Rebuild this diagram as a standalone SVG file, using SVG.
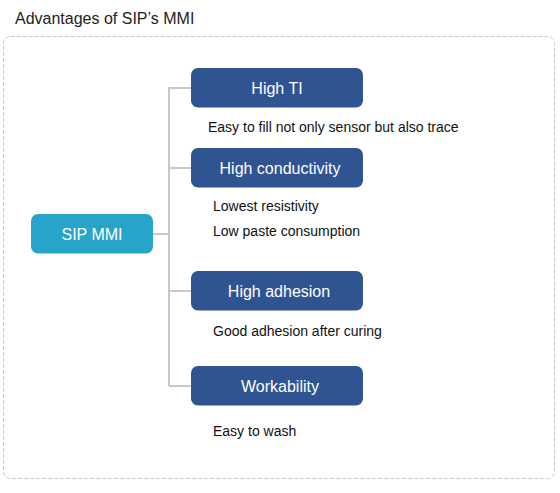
<svg xmlns="http://www.w3.org/2000/svg" width="560" height="493" viewBox="0 0 560 493">
<style>
.t{font-family:"Liberation Sans",Arial,sans-serif;}
.nb{fill:#2f5491;}
.nt{fill:#ffffff;font-size:16px;text-anchor:middle;}
.d{fill:#111111;font-size:14px;}
.c{stroke:#c8c8c8;stroke-width:2;fill:none;}
</style>
<rect width="560" height="493" fill="#ffffff"/>
<text class="t" x="15" y="24" font-size="16" fill="#222222">Advantages of SIP’s MMI</text>
<rect x="3.5" y="36.5" width="551" height="442" rx="7" fill="none" stroke="#c8c8c8" stroke-dasharray="4,2"/>
<g id="connectors">
<path class="c" d="M152 234H169M169 87V386M169 88H191M169 168H191M169 291H191M169 386H191"/>
</g>
<g id="sip-mmi">
<rect x="31" y="214" width="122" height="39.5" rx="7" fill="#28a3c9"/>
<text class="t nt" x="92" y="239.5">SIP MMI</text>
</g>
<g id="high-ti">
<rect class="nb" x="191" y="68" width="172" height="39.5" rx="7"/>
<text class="t nt" x="277" y="93.5">High TI</text>
<text class="t d" x="208" y="132">Easy to fill not only sensor but also trace</text>
</g>
<g id="high-conductivity">
<rect class="nb" x="191" y="148" width="172" height="39.5" rx="7"/>
<text class="t nt" x="280" y="173.5">High conductivity</text>
<text class="t d" x="213" y="211">Lowest resistivity</text>
<text class="t d" x="213" y="236">Low paste consumption</text>
</g>
<g id="high-adhesion">
<rect class="nb" x="191" y="271" width="172" height="39.5" rx="7"/>
<text class="t nt" x="279" y="296.5">High adhesion</text>
<text class="t d" x="213" y="336">Good adhesion after curing</text>
</g>
<g id="workability">
<rect class="nb" x="191" y="366" width="172" height="39.5" rx="7"/>
<text class="t nt" x="280" y="391.5">Workability</text>
<text class="t d" x="213" y="436">Easy to wash</text>
</g>
</svg>
